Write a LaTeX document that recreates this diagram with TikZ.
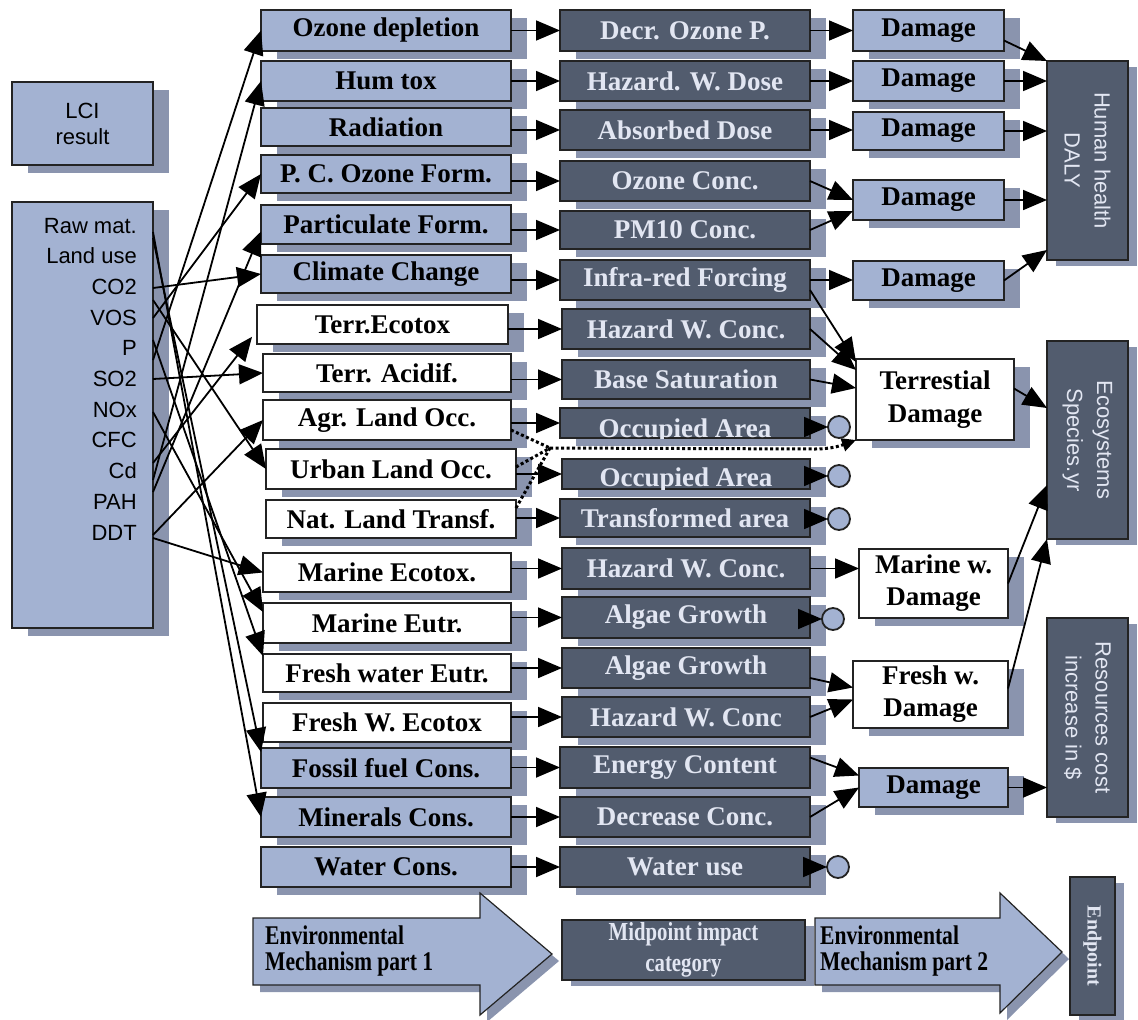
\documentclass[tikz,border=0pt]{standalone}
\usepackage{fontspec}
\usepackage{graphicx}
\setmainfont{Liberation Serif}
\setsansfont{Liberation Sans}
\usetikzlibrary{arrows.meta,shadows,calc}
\definecolor{lb}{RGB}{163,178,210}
\definecolor{dk}{RGB}{82,92,110}
\definecolor{shc}{RGB}{138,148,174}
\definecolor{lt}{RGB}{226,230,242}
\definecolor{ed}{RGB}{35,35,35}
\tikzset{
  base/.style={draw=ed,line width=1.6pt,inner sep=0pt,outer sep=0pt,
    font=\fontsize{27}{29}\selectfont\bfseries,align=center},
  sh/.style={drop shadow={shadow xshift=16pt,shadow yshift=-8pt,fill=shc,opacity=1}},
  shs/.style={drop shadow={shadow xshift=9pt,shadow yshift=-6pt,fill=shc,opacity=1}},
  lbox/.style={base,sh,fill=lb},
  wbox/.style={base,sh,fill=white},
  dbox/.style={base,sh,fill=dk,text=lt},
  dtext/.style={font=\fontsize{27}{29}\selectfont\bfseries,text=lt,inner sep=0pt},
  ltext/.style={font=\sffamily\fontsize{22}{26}\selectfont,inner sep=0pt},
  vtext/.style={font=\sffamily\fontsize{22}{30}\selectfont,text=lt,align=center,rotate=-90,inner sep=0pt},
  btext/.style={font=\fontsize{27}{27}\selectfont\bfseries,inner sep=0pt},
  tip/.tip={Triangle[length=24pt 0,width=20pt 0]},
  arr/.style={line width=1.8pt,-tip},
  dots/.style={line width=3pt,dash pattern=on 3pt off 2.5pt},
  circ/.style={circle,draw=ed,line width=1.8pt,fill=lb,minimum size=22pt,inner sep=0pt,outer sep=0pt},
}
\newcommand\bx[7]{\node[#2,minimum width={(#5-#3)*1pt},minimum height={(#6-#4)*1pt}] (#1) at ({(#3+#5)/2},{(#4+#6)/2}) {#7};}
\begin{document}
\begin{tikzpicture}[x=1pt,y=-1pt]
\useasboundingbox (0,0) rectangle (1138,1020);

% ---------- left: LCI ----------
\bx{lci}{lbox,font=\sffamily\fontsize{22}{26}\selectfont}{12}{82}{153}{165}{LCI\\result}
\bx{raw}{lbox}{12}{202}{153}{628}{}
\node[ltext,anchor=base east] (t1) at (137,233) {Raw mat.};
\node[ltext,anchor=base east] (t2) at (137,263.7) {Land use};
\node[ltext,anchor=base east] (t3) at (137,294.4) {CO2};
\node[ltext,anchor=base east] (t4) at (137,325.1) {VOS};
\node[ltext,anchor=base east] (t5) at (137,355.8) {P};
\node[ltext,anchor=base east] (t6) at (137,386.5) {SO2};
\node[ltext,anchor=base east] (t7) at (137,417.2) {NOx};
\node[ltext,anchor=base east] (t8) at (137,447.9) {CFC};
\node[ltext,anchor=base east] (t9) at (137,478.6) {Cd};
\node[ltext,anchor=base east] (t10) at (137,509.3) {PAH};
\node[ltext,anchor=base east] (t11) at (137,540) {DDT};

% ---------- column 1 ----------
\bx{c1}{lbox}{261}{10}{511}{51}{Ozone depletion}
\bx{c2}{lbox}{261}{61}{511}{101}{Hum tox}
\bx{c3}{lbox}{261}{108}{511}{146}{Radiation}
\bx{c4}{lbox}{261}{155}{511}{193}{P. C. Ozone Form.}
\bx{c5}{lbox}{261}{205}{511}{244}{Particulate Form.}
\bx{c6}{lbox}{261}{255}{511}{293}{Climate Change}
\bx{c7}{wbox}{257}{305}{508}{344}{Terr.Ecotox}
\bx{c8}{wbox}{263}{354}{511}{392}{Terr. Acidif.}
\bx{c9}{wbox}{263}{400}{511}{440}{Agr. Land Occ.}
\bx{c10}{wbox}{266}{449}{516}{489}{Urban Land Occ.}
\bx{c11}{wbox}{266}{500}{516}{538}{Nat. Land Transf.}
\bx{c12}{wbox}{263}{553}{511}{592}{Marine Ecotox.}
\bx{c13}{wbox}{263}{603}{511}{643}{Marine Eutr.}
\bx{c14}{wbox}{263}{654}{511}{692}{Fresh water Eutr.}
\bx{c15}{wbox}{263}{703}{511}{742}{Fresh W. Ecotox}
\bx{c16}{lbox}{261}{748}{511}{788}{Fossil fuel Cons.}
\bx{c17}{lbox}{261}{797}{511}{837}{Minerals Cons.}
\bx{c18}{lbox}{261}{847}{511}{887}{Water Cons.}

% ---------- column 2 ----------
\bx{m1}{dbox}{560}{10}{810}{51}{Decr. Ozone P.}
\bx{m2}{dbox}{560}{61}{810}{101}{Hazard. W. Dose}
\bx{m3}{dbox}{560}{110}{810}{150}{Absorbed Dose}
\bx{m4}{dbox}{560}{161}{810}{201}{Ozone Conc.}
\bx{m5}{dbox}{560}{211}{810}{249}{PM10 Conc.}
\bx{m6}{dbox}{560}{260}{810}{300}{Infra-red Forcing}
\bx{m7}{dbox}{562}{309}{810}{349}{Hazard W. Conc.}
\bx{m8}{dbox}{562}{360}{810}{399}{Base Saturation}
\bx{m9}{dbox}{560}{408}{810}{438}{}
\begin{scope}
\clip (m9.south west) rectangle (m9.north east);
\node[dtext,anchor=base] (m9t) at (685,437) {Occupied Area};
\end{scope}
\bx{m10}{dbox}{562}{459}{810}{489}{}
\begin{scope}
\clip (m10.south west) rectangle (m10.north east);
\node[dtext,anchor=base] (m10t) at (686,486) {Occupied Area};
\end{scope}
\bx{m11}{dbox}{560}{499}{810}{537}{Transformed area}
\bx{m12}{dbox}{562}{548}{810}{589}{Hazard W. Conc.}
\bx{m13}{dbox}{562}{597}{810}{638}{Algae Growth}
\bx{m14}{dbox}{562}{648}{810}{688}{Algae Growth}
\bx{m15}{dbox}{562}{697}{810}{737}{Hazard W. Conc}
\bx{m16}{dbox}{560}{747}{810}{788}{Energy Content}
\bx{m17}{dbox}{560}{797}{810}{837}{Decrease Conc.}
\bx{m18}{dbox}{560}{847}{810}{887}{Water use}

\node[circ] (o1) at (839,427) {};
\node[circ] (o2) at (839,476) {};
\node[circ] (o3) at (839,519) {};
\node[circ] (o4) at (833,619) {};
\node[circ] (o5) at (838,867) {};

% ---------- column 3 ----------
\bx{d1}{lbox}{853}{10}{1004}{51}{Damage}
\bx{d2}{lbox}{853}{61}{1004}{101}{Damage}
\bx{d3}{lbox}{853}{112}{1004}{150}{Damage}
\bx{d4}{lbox}{853}{180}{1004}{220}{Damage}
\bx{d5}{lbox}{853}{261}{1004}{300}{Damage}
\bx{td}{wbox,font=\fontsize{27}{33}\selectfont\bfseries}{856}{359}{1014}{440}{Terrestial\\Damage}
\bx{mw}{wbox,font=\fontsize{27}{32}\selectfont\bfseries}{859}{549}{1008}{618}{Marine w.\\Damage}
\bx{fw}{wbox,font=\fontsize{27}{32}\selectfont\bfseries}{853}{661}{1008}{728}{Fresh w.\\Damage}
\bx{dr}{lbox}{859}{768}{1008}{807}{Damage}

% ---------- endpoints ----------
\bx{hh}{base,shs,fill=dk}{1047}{61}{1128}{260}{}
\node[vtext] (hht) at (hh) {Human health\\DALY};
\bx{eco}{base,shs,fill=dk}{1047}{341}{1128}{539}{}
\node[vtext] (ecot) at (eco) {Ecosystems\\Species.yr};
\bx{res}{base,shs,fill=dk}{1047}{618}{1128}{817}{}
\node[vtext] (rest) at (res) {Resources cost\\increase in \$};

% ---------- legend ----------
\draw[draw=ed,line width=1.2pt,fill=lb,drop shadow={shadow xshift=7pt,shadow yshift=-7pt,fill=shc,opacity=1}]
  (253,918) -- (480,918) -- (480,893) -- (552,954) -- (480,1015) -- (480,985) -- (253,985) -- cycle;
\node[btext,anchor=base west] (e1a) at (265,944) {\scalebox{0.8}[1]{Environmental}};
\node[btext,anchor=base west] (e1b) at (265,970) {\scalebox{0.8}[1]{Mechanism part 1}};
\bx{mid}{base,shs,fill=dk,text=lt,font=\fontsize{26}{31}\selectfont\bfseries}{562}{920}{805}{980}{\scalebox{0.8}[1]{Midpoint impact}\\\scalebox{0.8}[1]{category}}
\draw[draw=ed,line width=1.2pt,fill=lb,drop shadow={shadow xshift=7pt,shadow yshift=-7pt,fill=shc,opacity=1}]
  (815,918) -- (1000,918) -- (1000,893) -- (1062,952) -- (1000,1013) -- (1000,985) -- (815,985) -- cycle;
\node[btext,anchor=base west] (e2a) at (820,944) {\scalebox{0.8}[1]{Environmental}};
\node[btext,anchor=base west] (e2b) at (820,970) {\scalebox{0.8}[1]{Mechanism part 2}};
\bx{endp}{base,shs,fill=dk}{1070}{877}{1115}{1015}{}
\node[font=\fontsize{20}{22}\selectfont\bfseries,text=lt,rotate=-90,inner sep=0pt] (endpt) at (endp) {Endpoint};

% ---------- LCI -> impact categories ----------
\coordinate (s1) at (153,232);
\coordinate (s2) at (153,238);
\coordinate (s3) at (153,288);
\coordinate (s4) at (153,300);
\coordinate (s5) at (153,318);
\coordinate (s6) at (153,340);
\coordinate (s7) at (153,360);
\coordinate (s8) at (153,379);
\coordinate (s9) at (153,412);
\coordinate (s10) at (153,463);
\coordinate (s11) at (153,480);
\coordinate (s12) at (153,492);
\coordinate (s13) at (153,535);
\coordinate (s14) at (153,538);
\draw[arr] (s1) -- (c17.west);
\draw[arr] (s2) -- ([yshift=-4pt]c16.north west);
\draw[arr] (s3) -- (c6.west);
\draw[arr] (s4) -- (c10.west);
\draw[arr] (s5) -- (c4.west);
\draw[arr] (s6) -- ([yshift=-2pt]c14.north west);
\draw[arr] (s7) -- (c1.west);
\draw[arr] (s8) -- (c8.west);
\draw[arr] (s9) -- ([yshift=-9pt]c13.north west);
\draw[arr,shorten >=8pt] (s10) -- ([yshift=-6pt]c7.west);
\draw[arr] (s11) -- (c2.west);
\draw[arr] (s12) -- ([yshift=-7pt]c5.west);
\draw[arr] (s13) -- (c9.west);
\draw[arr] (s14) -- (c12.west);

% ---------- column 1 -> column 2 ----------
\foreach \i in {1,...,18}{\draw[arr] (m\i.west -| c\i.east) -- (m\i.west);}

% dotted land-use links
\coordinate (dj) at (550,448);
\coordinate (dk2) at (815,449);
\draw[dots] ([yshift=-10pt]c9.east) -- (dj);
\draw[dots] ([yshift=2pt]c10.east) -- (dj);
\draw[dots] ([yshift=11pt]c11.east) -- (dj);
\draw[dots,-{Triangle[length=14pt 0,width=13pt 0]}] (dj) -- (dk2) to[out=0,in=200] (td.south west);

% ---------- column 2 -> column 3 ----------
\draw[arr] (m1.east) -- (d1.west);
\draw[arr] (m2.east) -- (d2.west);
\draw[arr] (m3.east) -- (m3.east -| d3.west);
\draw[arr] (m4.east) -- (d4.west);
\draw[arr] (m5.east) -- ([yshift=-11pt]d4.west);
\draw[arr] (m6.east) -- (m6.east -| d5.west);
\draw[arr] ([yshift=-10pt]m6.east) -- ([yshift=-3pt]td.north west);
\draw[arr] (m7.east) -- ([yshift=-11pt]td.north west);
\draw[arr] (m8.east) -- ([yshift=-29pt]td.north west);
\draw[arr] (o1.west -| m9.east) -- (o1.west);
\draw[arr] (o2.west -| m10.east) -- (o2.west);
\draw[arr] (o3.west -| m11.east) -- (o3.west);
\draw[arr] (m12.east) -- (m12.east -| mw.west);
\draw[arr] (o4.west -| m13.east) -- (o4.west);
\draw[arr] ([yshift=-10pt]m14.east) -- ([yshift=7pt]fw.west);
\draw[arr] (m15.east) -- ([yshift=-5pt]fw.west);
\draw[arr] ([yshift=10pt]m16.east) -- ([yshift=12pt]dr.west);
\draw[arr] (m17.east) -- (dr.west);
\draw[arr] (o5.west -| m18.east) -- (o5.west);

% ---------- column 3 -> endpoints ----------
\draw[arr] ([yshift=-10pt]d1.east) -- (hh.north west);
\draw[arr] (d2.east) -- (d2.east -| hh.west);
\draw[arr] (d3.east) -- (d3.east -| hh.west);
\draw[arr] (d4.east) -- (d4.east -| hh.west);
\draw[arr] (d5.east) -- ([yshift=10pt]hh.south west);
\draw[arr] ([yshift=11pt]td.east) -- ([yshift=-67pt]eco.north west);
\draw[arr] (mw.east) -- ([yshift=54pt]eco.south west);
\draw[arr] ([yshift=6pt]fw.east) -- (eco.south west);
\draw[arr] (dr.east) -- (dr.east -| res.west);
\end{tikzpicture}
\end{document}
